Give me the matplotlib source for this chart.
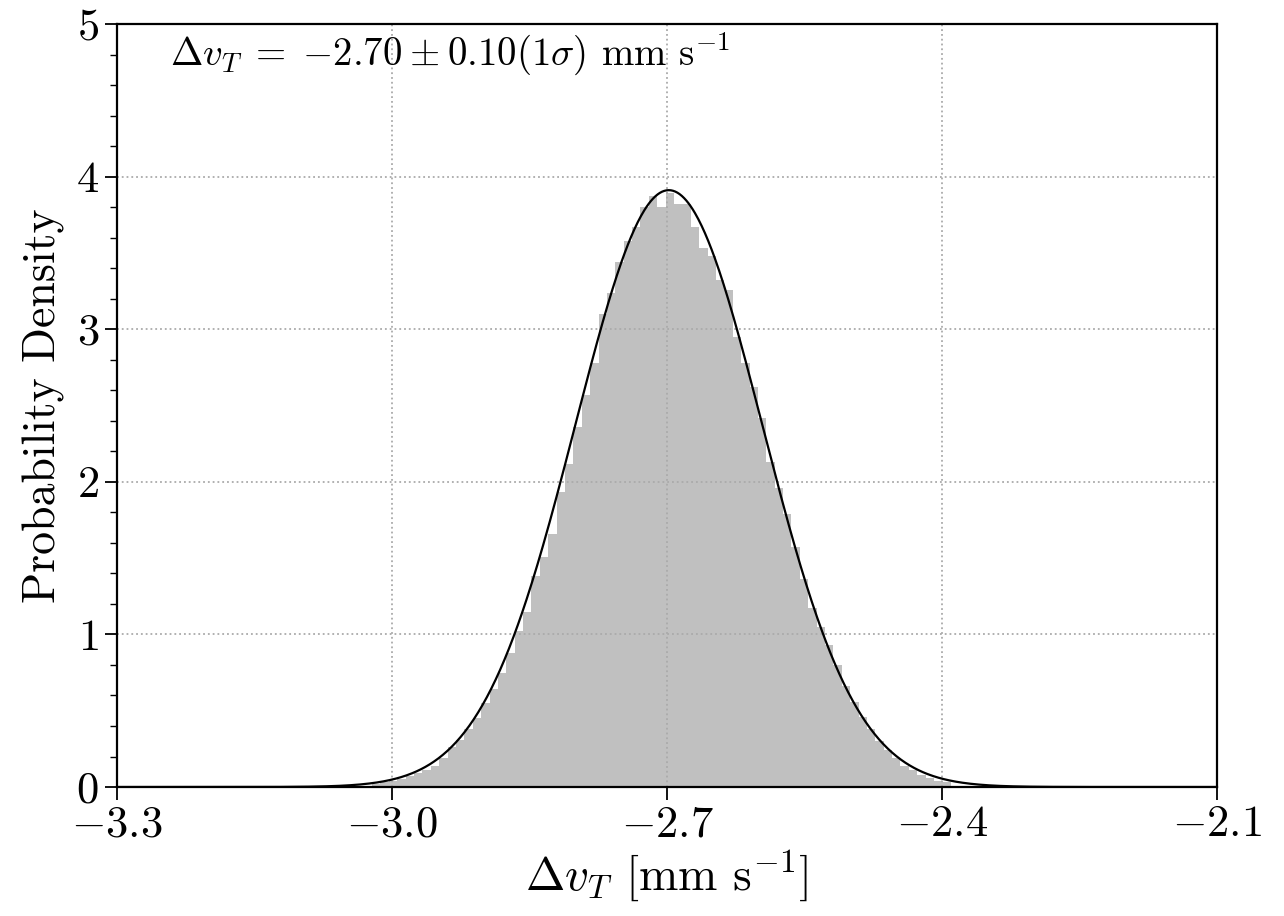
import numpy as np
import matplotlib
matplotlib.use("Agg")
import matplotlib.pyplot as plt
from matplotlib.ticker import MultipleLocator

plt.rcParams['font.family'] = 'serif'
plt.rcParams['font.serif'] = ['cmr10']
plt.rcParams['mathtext.fontset'] = 'cm'
plt.rcParams['axes.formatter.use_mathtext'] = True

# histogram (density)
bin_start = -3.0217
bin_width = 0.00915
density = [0.02, 0.03, 0.04, 0.05, 0.07, 0.09, 0.11, 0.14, 0.19, 0.26,
           0.31, 0.38, 0.45, 0.55, 0.64, 0.75, 0.88, 1.02, 1.15, 1.38,
           1.51, 1.66, 1.93, 2.12, 2.36, 2.57, 2.78, 3.10, 3.24, 3.44,
           3.58, 3.67, 3.80, 3.87, 3.80, 3.89, 3.82, 3.82, 3.67, 3.53,
           3.48, 3.32, 3.26, 2.95, 2.78, 2.62, 2.42, 2.13, 1.96, 1.79,
           1.57, 1.36, 1.17, 1.05, 0.93, 0.80, 0.66, 0.56, 0.46, 0.38,
           0.30, 0.24, 0.19, 0.14, 0.11, 0.08, 0.06, 0.04, 0.03]

# fitted normal
mu = -2.698
sigma = 0.102

xticks = [-3.3, -3.0, -2.7, -2.4, -2.1]
yticks = [0, 1, 2, 3, 4, 5]

fig = plt.figure(figsize=(12.84, 9.16), dpi=100)
ax = fig.add_axes([0.0911, 0.1408, 0.8567, 0.833])

edges = bin_start + bin_width * np.arange(len(density) + 1)
ax.stairs(density, edges, fill=True, color='silver', zorder=1)

xs = np.linspace(-3.3, -2.1, 1000)
pdf = np.exp(-0.5 * ((xs - mu) / sigma) ** 2) / (sigma * np.sqrt(2 * np.pi))
ax.plot(xs, pdf, color='black', lw=1.6, zorder=3)

ax.set_xlim(-3.3, -2.1)
ax.set_ylim(0, 5)
ax.set_xticks(xticks)
ax.set_xticklabels([r'$%.1f$' % t if t >= 0 else r'$-%.1f$' % abs(t) for t in xticks])
ax.set_yticks(yticks)
ax.yaxis.set_minor_locator(MultipleLocator(0.2))
ax.grid(True, which='major', linestyle=':', color='#aaaaaa', lw=1.3, zorder=2)
ax.set_axisbelow(False)

ax.tick_params(which='major', direction='out', length=9, width=1.3, labelsize=32, pad=4)
ax.tick_params(which='minor', direction='out', length=5, width=1.0)
for s in ax.spines.values():
    s.set_linewidth(1.6)
    s.set_zorder(5)

ax.set_xlabel(r'$\Delta v_T$ [mm s$^{-1}$]', fontsize=34, labelpad=2)
ax.set_ylabel('Probability Density', fontsize=33, labelpad=8)
ax.text(0.048, 0.96, r'$\Delta v_T \;=\; {-2.70} \:\pm\: 0.10(1\sigma)$ mm s$^{-1}$',
        transform=ax.transAxes, fontsize=28, va='center', ha='left')

fig.savefig('out.png', dpi=100)
